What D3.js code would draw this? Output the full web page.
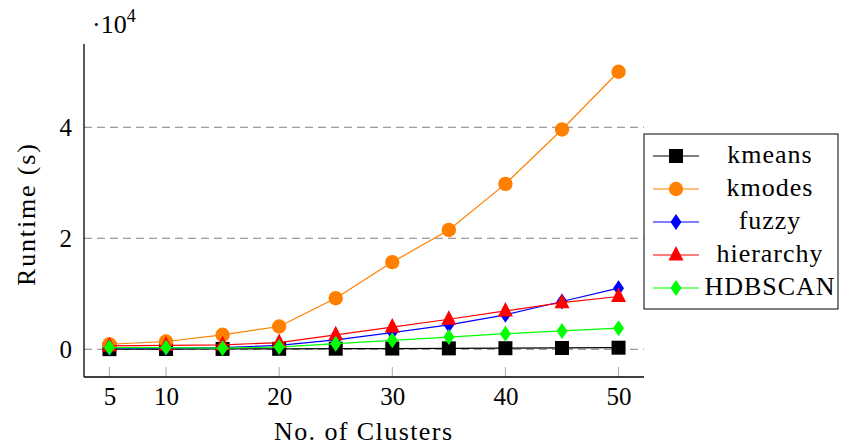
<!DOCTYPE html>
<html><head><meta charset="utf-8">
<script src="https://cdn.jsdelivr.net/npm/d3@7"></script>
<style>body{margin:0;background:#fff}svg{display:block}</style>
</head><body><svg id="c" width="842" height="446"></svg>
<script>
const clusters = [5,10,15,20,25,30,35,40,45,50];
const kmeans    = [20,40,60,80,100,130,160,190,230,280];
const kmodes    = [900,1400,2600,4100,9200,15700,21500,29800,39600,50000];
const fuzzy     = [200,200,300,700,1700,3000,4400,6200,8600,11000];
const hierarchy = [600,700,800,1200,2600,4000,5400,6900,8400,9500];
const hdbscan   = [300,300,200,400,1000,1600,2200,2800,3300,3800];
const seriesNames = ["kmeans","kmodes","fuzzy","hierarchy","HDBSCAN"];
const seriesColors = ["#000000","#ff8000","#0000ff","#ff0000","#00ff00"];
const seriesMarks = ["square","circle","diamond","triangle","diamond"];
const xTicks = [5,10,20,30,40,50];
const yTicks = [0,20000,40000];
const yTickLabels = ["0","2","4"];

const FONT = '"Liberation Serif"';
const series = [kmeans,kmodes,fuzzy,hierarchy,hdbscan].map((v,i)=>({name:seriesNames[i],color:seriesColors[i],mark:seriesMarks[i],values:v}));

const svg = d3.select("#c");
const L=84,R=644,T=44,B=377;
const x = d3.scaleLinear().domain([2.75,52.25]).range([L,R]);
const y = d3.scaleLinear().domain([-5000,55000]).range([B,T]);

// grid
svg.append("g").selectAll("line").data(yTicks).join("line")
  .attr("x1",L).attr("x2",R).attr("y1",d=>y(d)).attr("y2",d=>y(d))
  .attr("stroke","#808080").attr("stroke-width",1).attr("stroke-dasharray","8,5");

// x axis labels + inside tick marks
const xa = d3.axisBottom(x).tickValues(xTicks).tickSize(0).tickPadding(10);
const gx = svg.append("g").attr("transform",`translate(0,${B})`).call(xa);
gx.attr("font-family",null);
gx.select(".domain").remove();
gx.selectAll("text").attr("font-size",25).style("font-family",FONT).style("fill","#000");
svg.append("g").selectAll("line").data(xTicks).join("line")
  .attr("x1",d=>x(d)).attr("x2",d=>x(d)).attr("y1",B).attr("y2",B-10)
  .attr("stroke","#aaa").attr("stroke-width",1);

const ya = d3.axisLeft(y).tickValues(yTicks).tickFormat((d,i)=>yTickLabels[i]).tickSize(0).tickPadding(12);
const gy = svg.append("g").attr("transform",`translate(${L},0)`).call(ya);
gy.attr("font-family",null);
gy.select(".domain").remove();
gy.selectAll("text").attr("font-size",25).style("font-family",FONT).style("fill","#000");

// axis lines
svg.append("line").attr("x1",L).attr("x2",L).attr("y1",T).attr("y2",B).attr("stroke","#000").attr("stroke-width",1.3);
svg.append("line").attr("x1",L).attr("x2",R).attr("y1",B).attr("y2",B).attr("stroke","#000").attr("stroke-width",1.3);

function markPath(m){
  if(m==="square") return "M-7,-7H7V7H-7Z";
  if(m==="circle") return d3.symbol(d3.symbolCircle, Math.PI*7.2*7.2)();
  if(m==="diamond") return "M0,-8L5.5,0L0,8L-5.5,0Z";
  if(m==="triangle") return "M0,-9L7.5,5.5L-7.5,5.5Z";
}

const line = d3.line().x((d,i)=>x(clusters[i])).y(d=>y(d));
series.forEach(s=>{
  const g = svg.append("g");
  g.append("path").attr("d",line(s.values)).attr("fill","none").attr("stroke",s.color).attr("stroke-width",1.2);
  g.selectAll("path.m").data(s.values).join("path").attr("class","m")
    .attr("d",markPath(s.mark)).attr("fill",s.color)
    .attr("transform",(d,i)=>`translate(${x(clusters[i])},${y(d)})`);
});

// axis titles
svg.append("text").attr("x",363).attr("y",440).attr("text-anchor","middle").attr("font-size",26).style("font-family",FONT)
  .attr("textLength",178).attr("lengthAdjust","spacing").text("No. of Clusters");
svg.append("text").attr("transform","translate(35,215) rotate(-90)").attr("text-anchor","middle").attr("font-size",26).style("font-family",FONT)
  .attr("textLength",142).attr("lengthAdjust","spacing").text("Runtime (s)");
const mult = svg.append("text").attr("x",92).attr("y",33).attr("font-size",26).style("font-family",FONT);
mult.append("tspan").text("·10");
mult.append("tspan").attr("font-size",18).attr("dy",-11).text("4");

// legend
const lg = svg.append("g");
lg.append("rect").attr("x",644).attr("y",134).attr("width",194).attr("height",175).attr("fill","#fff").attr("stroke","#000").attr("stroke-width",1);
series.forEach((s,i)=>{
  const cy = 156 + i*33;
  lg.append("line").attr("x1",653).attr("x2",699).attr("y1",cy).attr("y2",cy).attr("stroke",s.color).attr("stroke-width",1.2);
  lg.append("path").attr("d",markPath(s.mark)).attr("fill",s.color).attr("transform",`translate(676,${cy})`);
  lg.append("text").attr("x",770).attr("y",cy+7).attr("text-anchor","middle").attr("font-size",26).style("font-family",FONT)
    .attr("letter-spacing",1).text(s.name);
});
</script></body></html>
